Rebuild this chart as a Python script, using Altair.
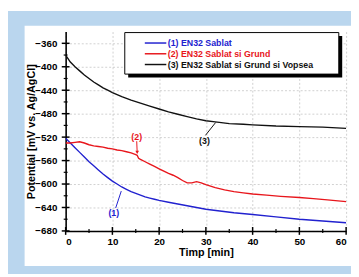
import altair as alt
import pandas as pd

# ---- data ----
series_names = ["(1) EN32 Sablat", "(2) EN32 Sablat si Grund", "(3) EN32 Sablat si Grund si Vopsea"]
series_colors = ["#2121cf", "#e8161c", "#111111"]

t1 = [0, 1, 2, 3, 4, 5, 6, 7, 8, 9, 10, 11, 12, 13, 14, 15, 16, 17, 18, 19, 20,
      22, 24, 26, 28, 30, 33, 36, 40, 45, 50, 55, 60]
v1 = [-522, -530, -538, -546, -554, -562, -569, -576, -583, -589, -595, -600, -605, -609, -613, -616, -619, -622, -624, -626, -628,
      -631, -634, -637, -640, -643, -646, -649, -652, -656, -660, -663, -666]

t2 = [0, 1, 2, 3, 4, 5, 6, 7, 8, 9, 10, 11, 12, 13, 14, 15, 15.3, 15.6, 16, 17, 18, 19, 20,
      21, 22, 23, 24, 25, 26, 27, 28, 29, 30, 32, 34, 36, 38, 40, 43, 46, 50, 53, 56, 60]
v2 = [-530, -530, -529, -528, -530, -533, -535, -536, -537, -539, -540, -542, -543, -545, -547, -550, -551, -556, -558, -562, -566, -570, -574,
      -578, -582, -585, -589, -594, -598, -598, -596, -598, -601, -606, -610, -613, -615, -617, -619, -621, -623, -625, -627, -630]

t3 = [0, 1, 2, 3, 4, 5, 6, 7, 8, 9, 10, 12, 14, 16, 18, 20, 22, 24, 26, 28, 30,
      32, 35, 38, 40, 45, 50, 55, 60]
v3 = [-380, -392, -400, -407, -414, -420, -426, -431, -436, -440, -444, -451, -457, -462, -467, -472, -477, -481, -485, -489, -492,
      -494, -497, -498, -499, -501, -502, -503, -505]

ann_text = ["(1)", "(2)", "(3)"]
ann_x = [10.3, 15.2, 29.7]
ann_y = [-649, -520, -527]
ptr_x1 = [10.7, 15.2, 29.9]
ptr_y1 = [-641, -527, -517]
ptr_x2 = [11.9, 15.3, 32.1]
ptr_y2 = [-612, -546, -495]

x_major = [0, 10, 20, 30, 40, 50, 60]
x_minor = [5, 15, 25, 35, 45, 55]
y_major = [-680, -640, -600, -560, -520, -480, -440, -400, -360]
y_minor = [-660, -620, -580, -540, -500, -460, -420, -380]

# ---- build tables ----
rows = []
for name, ts, vs in zip(series_names, [t1, t2, t3], [v1, v2, v3]):
    for t, v in zip(ts, vs):
        rows.append({"series": name, "t": t, "v": v})
df = pd.DataFrame(rows)

ann = pd.DataFrame({"label": ann_text, "x": ann_x, "y": ann_y,
                    "x1": ptr_x1, "y1": ptr_y1, "x2": ptr_x2, "y2": ptr_y2,
                    "series": series_names})

W, H = 287, 204
FONT = "Liberation Sans"
BLUE_BG = "#bad6ee"

xs = alt.Scale(domain=[0, 60], nice=False, zero=False)
ys = alt.Scale(domain=[-680, -340], nice=False, zero=False)
cs = alt.Scale(domain=series_names, range=series_colors)

XAX = alt.Axis(values=x_major, title="Timp [min]", labelPadding=6, format="d",
               titleX=W / 2, titleY=22, titleBaseline="middle", titleAlign="center")
YAX = alt.Axis(values=y_major, title="Potential [mV vs. Ag/AgCl]", labelPadding=9, format="d",
               titleX=-35, titleY=H / 2, titleAngle=270, titleBaseline="middle", titleAlign="center")


def X(f):
    return alt.X(f, scale=xs, axis=XAX)


def Y(f):
    return alt.Y(f, scale=ys, axis=YAX)


lines = alt.Chart(df).mark_line(strokeWidth=1.4, clip=True).encode(
    x=X("t:Q"), y=Y("v:Q"),
    color=alt.Color("series:N", scale=cs, legend=None),
    order=alt.Order("t:Q"),
)

ptrs = alt.Chart(ann).mark_rule(strokeWidth=1).encode(
    x=X("x1:Q"), y=Y("y1:Q"), x2="x2:Q", y2="y2:Q",
    color=alt.Color("series:N", scale=cs, legend=None),
)
ann_labels = alt.Chart(ann).mark_text(font=FONT, fontWeight="bold", fontSize=9).encode(
    x=X("x:Q"), y=Y("y:Q"), text="label:N",
    color=alt.Color("series:N", scale=cs, legend=None),
)
arrow = alt.Chart(ann.iloc[[1]]).mark_point(shape="triangle-down", filled=True, size=14, opacity=1).encode(
    x=X("x2:Q"), y=Y("y2:Q"),
    color=alt.Color("series:N", scale=cs, legend=None),
)

# axis ticks crossing the axis lines
xt_major = alt.Chart(pd.DataFrame({"x": x_major})).mark_rule(color="black", strokeWidth=1.5).encode(
    x=X("x:Q"), y=alt.value(H - 4), y2=alt.value(H + 4))
xt_minor = alt.Chart(pd.DataFrame({"x": x_minor})).mark_rule(color="black", strokeWidth=1.2).encode(
    x=X("x:Q"), y=alt.value(H - 2), y2=alt.value(H + 2))
yt_major = alt.Chart(pd.DataFrame({"y": y_major})).mark_rule(color="black", strokeWidth=1.5).encode(
    y=Y("y:Q"), x=alt.value(-4), x2=alt.value(4))
yt_minor = alt.Chart(pd.DataFrame({"y": y_minor})).mark_rule(color="black", strokeWidth=1.2).encode(
    y=Y("y:Q"), x=alt.value(-2), x2=alt.value(2))

one = pd.DataFrame({"a": [0]})

# legend box (drawn with marks)
LX0, LX1, LY0, LY1 = 60.5, 279.5, 1, 43.5
shadow = alt.Chart(one).mark_rect(color="black").encode(
    x=alt.value(LX0 + 3.5), x2=alt.value(LX1 + 3.5), y=alt.value(LY0 + 3.5), y2=alt.value(LY1 + 3.5))
box = alt.Chart(one).mark_rect(fill="white", stroke="black", strokeWidth=1).encode(
    x=alt.value(LX0), x2=alt.value(LX1), y=alt.value(LY0), y2=alt.value(LY1))
leg_layers = []
for i, (name, col) in enumerate(zip(series_names, series_colors)):
    ry = 11.7 + 11 * i
    leg_layers.append(alt.Chart(one).mark_rule(color=col, strokeWidth=1.5).encode(
        x=alt.value(81), x2=alt.value(103), y=alt.value(ry)))
    leg_layers.append(alt.Chart(one).mark_text(font=FONT, fontWeight="bold", fontSize=9, color=col,
                                               align="left", baseline="middle").encode(
        x=alt.value(104.5), y=alt.value(ry + 0.5), text=alt.value(name)))

# light-blue surround of the white panel
band_left = alt.Chart(one).mark_rect(color=BLUE_BG).encode(
    x=alt.value(-59), x2=alt.value(-42), y=alt.value(-21), y2=alt.value(248))
band_top = alt.Chart(one).mark_rect(color=BLUE_BG).encode(
    x=alt.value(-59), x2=alt.value(292), y=alt.value(-21), y2=alt.value(-6))
band_bottom = alt.Chart(one).mark_rect(color=BLUE_BG).encode(
    x=alt.value(-59), x2=alt.value(292), y=alt.value(240), y2=alt.value(248))

chart = alt.layer(
    lines, band_left, band_top, band_bottom,
    ptrs, arrow, ann_labels,
    xt_major, xt_minor, yt_major, yt_minor,
    shadow, box, *leg_layers,
).properties(
    width=W, height=H,
    autosize=alt.AutoSizeParams(type="none"),
    padding={"left": 59, "top": 21, "right": 5, "bottom": 44},
    background="white",
).configure_view(
    stroke=None, fill="white",
).configure_axis(
    domainColor="black", domainWidth=1.6,
    ticks=False, tickSize=0,
    grid=True, gridColor="#c4c4c4", gridDash=[2, 2], gridWidth=0.8,
    labelFont=FONT, labelFontWeight="bold", labelFontSize=10, labelColor="black",
    titleFont=FONT, titleFontWeight="bold", titleFontSize=11, titleColor="black",
)

chart.save("out.html", embed_options={"renderer": "svg", "actions": False})
